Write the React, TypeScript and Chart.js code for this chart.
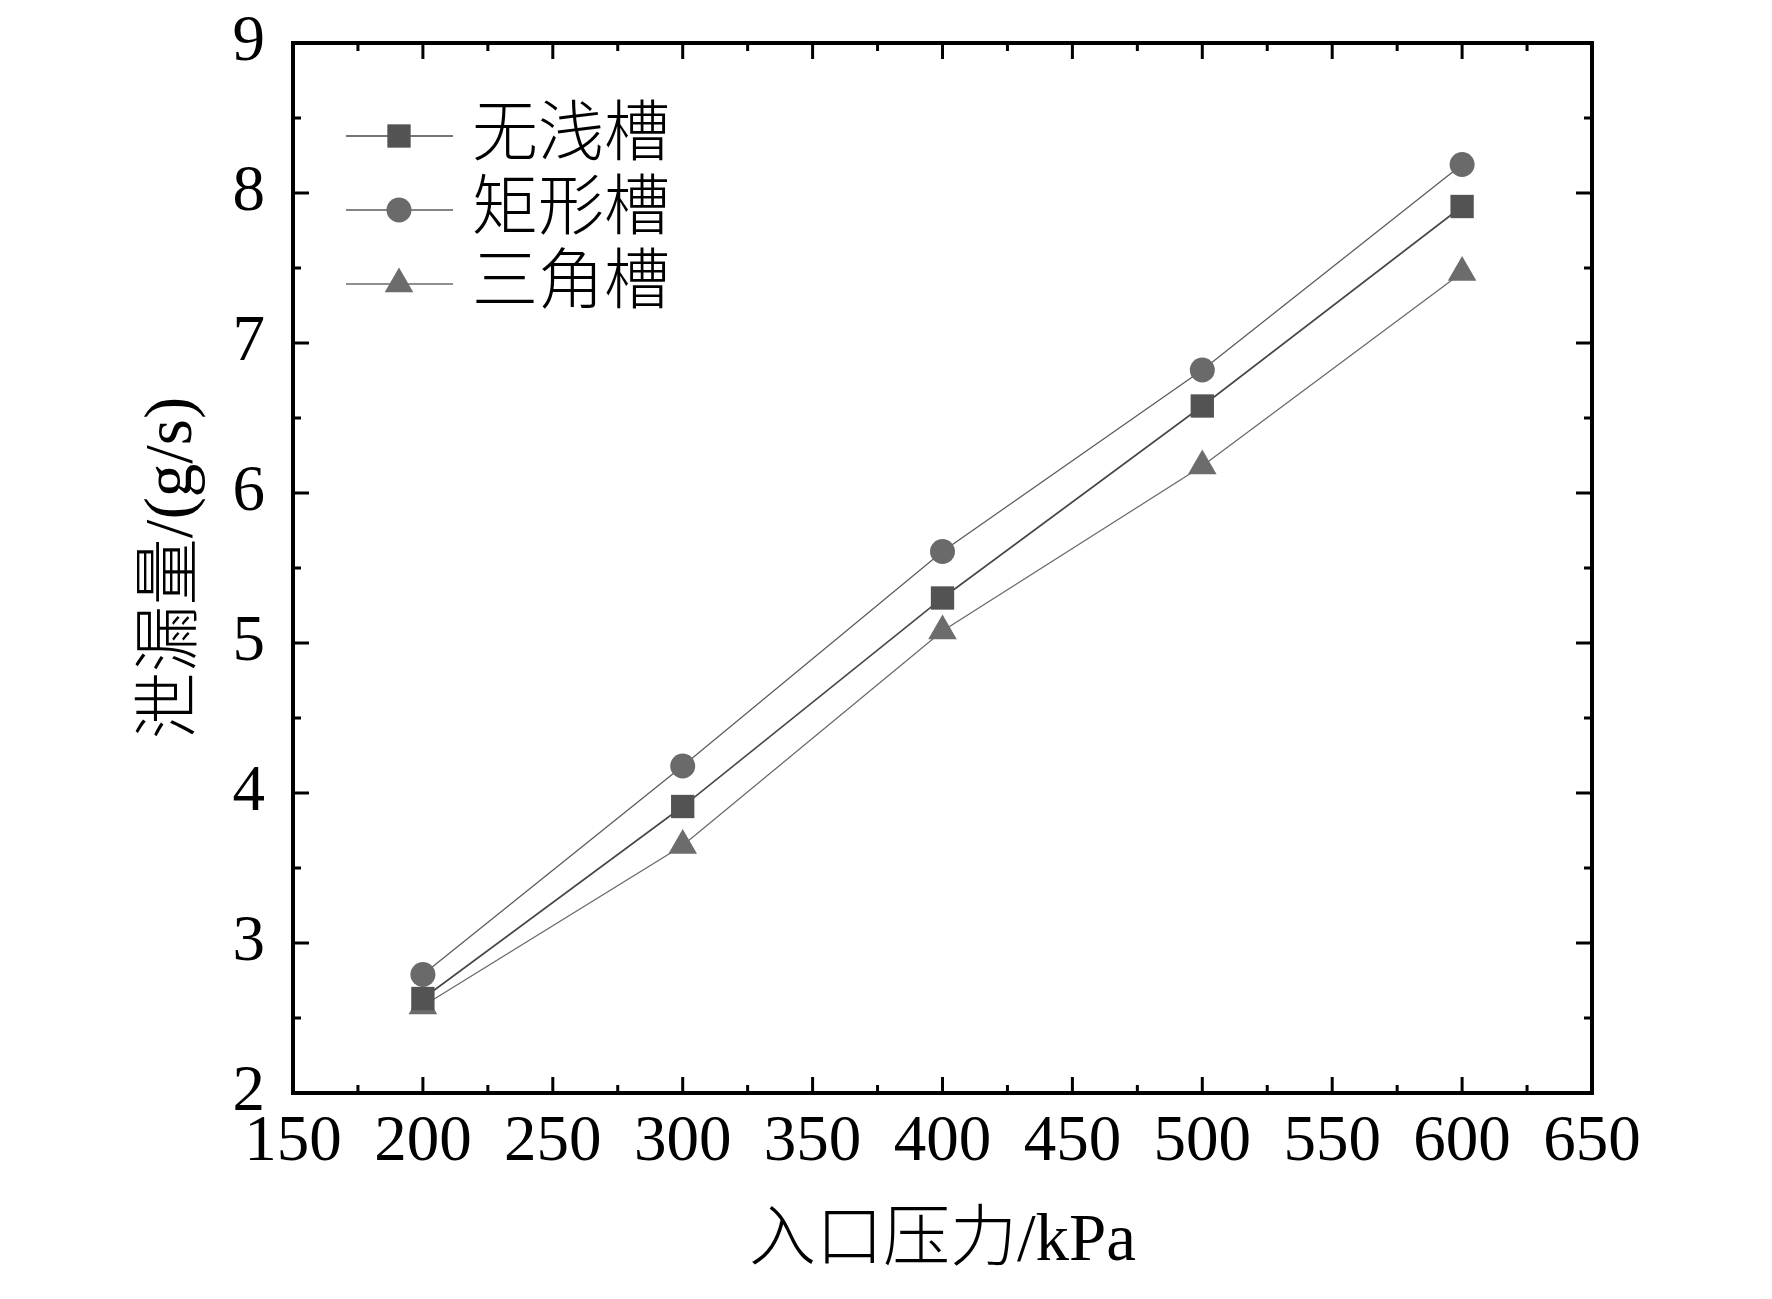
import { useEffect, useRef } from "react"
import { Chart, registerables } from "chart.js"
import { drawPoint } from "chart.js/helpers"

Chart.register(...registerables)

// inlet pressure (kPa)
const pressures = [200, 300, 400, 500, 600]
// leakage (g/s)
const noGroove = [2.63, 3.91, 5.3, 6.58, 7.91]
const rectGroove = [2.79, 4.18, 5.61, 6.82, 8.19]
const triGroove = [2.58, 3.65, 5.08, 6.18, 7.47]
const seriesNames = ["无浅槽", "矩形槽", "三角槽"]

const xTickValues = [150, 200, 250, 300, 350, 400, 450, 500, 550, 600, 650]
const yTickValues = [2, 3, 4, 5, 6, 7, 8, 9]

const serif = "'Liberation Serif', 'Noto Sans CJK SC', serif"

// box frame with inward major/minor ticks on all four sides
const framePlugin = {
  id: "frame",
  afterDraw(chart: any) {
    const { ctx, chartArea } = chart
    const { left, right, top, bottom } = chartArea
    const xs = chart.scales.x
    const ys = chart.scales.y
    const major = 16
    const minor = 8
    ctx.save()
    ctx.strokeStyle = "#000"
    ctx.lineWidth = 3
    const xv = xs.ticks.map((t: any) => t.value)
    const yv = ys.ticks.map((t: any) => t.value)
    const tickX = (px: number, len: number) => {
      ctx.beginPath()
      ctx.moveTo(px, bottom)
      ctx.lineTo(px, bottom - len)
      ctx.moveTo(px, top)
      ctx.lineTo(px, top + len)
      ctx.stroke()
    }
    const tickY = (py: number, len: number) => {
      ctx.beginPath()
      ctx.moveTo(left, py)
      ctx.lineTo(left + len, py)
      ctx.moveTo(right, py)
      ctx.lineTo(right - len, py)
      ctx.stroke()
    }
    xv.forEach((v: number, i: number) => {
      tickX(xs.getPixelForValue(v), major)
      if (i < xv.length - 1) tickX(xs.getPixelForValue((v + xv[i + 1]) / 2), minor)
    })
    yv.forEach((v: number, i: number) => {
      tickY(ys.getPixelForValue(v), major)
      if (i < yv.length - 1) tickY(ys.getPixelForValue((v + yv[i + 1]) / 2), minor)
    })
    ctx.lineWidth = 4
    ctx.strokeRect(left, top, right - left, bottom - top)
    ctx.restore()
  },
}

// legend: short line with marker, then the name
const legendPlugin = {
  id: "lineLegend",
  afterDraw(chart: any) {
    const { ctx } = chart
    const x0 = 346
    const x1 = 453
    const mx = 399
    const tx = 472
    const y0 = 136
    const step = 74
    ctx.save()
    chart.data.datasets.forEach((ds: any, i: number) => {
      const y = y0 + i * step
      ctx.strokeStyle = ds.borderColor
      ctx.lineWidth = ds.borderWidth
      ctx.beginPath()
      ctx.moveTo(x0, y)
      ctx.lineTo(x1, y)
      ctx.stroke()
      ctx.fillStyle = ds.pointBackgroundColor
      drawPoint(ctx, { pointStyle: ds.pointStyle, radius: ds.pointRadius, rotation: 0, borderWidth: 0 }, mx, y)
      ctx.fillStyle = "#000"
      ctx.font = `300 66px ${serif}`
      ctx.textAlign = "left"
      ctx.textBaseline = "middle"
      ctx.fillText(ds.label, tx, y + 2)
    })
    ctx.restore()
  },
}

export default function App() {
  const chartRef = useRef<HTMLCanvasElement>(null)
  const chartInstance = useRef<Chart | null>(null)

  useEffect(() => {
    document.body.style.margin = "0"
    if (!chartRef.current) return
    const ctx = chartRef.current.getContext("2d")
    if (!ctx) return

    if (chartInstance.current) chartInstance.current.destroy()

    const mk = (label: string, values: number[], style: string, radius: number, fill: string, line: string, lw: number) => ({
      label,
      data: pressures.map((p, i) => ({ x: p, y: values[i] })),
      pointStyle: style,
      pointRadius: radius,
      pointHoverRadius: radius,
      pointBackgroundColor: fill,
      pointBorderWidth: 0,
      borderColor: line,
      borderWidth: lw,
      showLine: true,
      tension: 0,
    })

    chartInstance.current = new Chart(ctx, {
      type: "scatter",
      data: {
        datasets: [
          mk(seriesNames[0], noGroove, "rect", 16.5, "#535353", "#474747", 1.6),
          mk(seriesNames[1], rectGroove, "circle", 12.5, "#6a6a6a", "#5c5c5c", 1.3),
          mk(seriesNames[2], triGroove, "triangle", 16.5, "#6c6c6c", "#6a6a6a", 1.3),
        ] as any,
      },
      options: {
        animation: false,
        responsive: true,
        maintainAspectRatio: false,
        layout: { padding: { top: 43, right: 180, left: 0, bottom: 0 } },
        plugins: {
          legend: { display: false },
          tooltip: { enabled: false },
        },
        scales: {
          x: {
            type: "linear",
            min: xTickValues[0],
            max: xTickValues[xTickValues.length - 1],
            afterBuildTicks: (s: any) => {
              s.ticks = xTickValues.map((v) => ({ value: v }))
            },
            afterFit: (s: any) => {
              s.height = 206
              s.paddingLeft = 0
              s.paddingRight = 0
            },
            grid: { display: false, drawTicks: false },
            border: { display: false },
            ticks: {
              padding: 11,
              color: "#000",
              font: { family: serif, size: 65 },
              maxRotation: 0,
              autoSkip: false,
            },
            title: {
              display: true,
              text: "入口压力/kPa",
              color: "#000",
              font: { family: serif, size: 67, weight: 300 as any },
              padding: { top: 0, bottom: 16 },
            },
          },
          y: {
            type: "linear",
            min: yTickValues[0],
            max: yTickValues[yTickValues.length - 1],
            afterBuildTicks: (s: any) => {
              s.ticks = yTickValues.map((v) => ({ value: v }))
            },
            afterFit: (s: any) => {
              s.width = 293
              s.paddingTop = 0
              s.paddingBottom = 0
            },
            grid: { display: false, drawTicks: false },
            border: { display: false },
            ticks: {
              padding: 28,
              color: "#000",
              font: { family: serif, size: 65 },
              autoSkip: false,
            },
            title: {
              display: true,
              text: "泄漏量/(g/s)",
              color: "#000",
              font: { family: serif, size: 67, weight: 300 as any },
              padding: { top: 133, bottom: 0 },
            },
          },
        },
      },
      plugins: [framePlugin, legendPlugin],
    })

    return () => {
      if (chartInstance.current) {
        chartInstance.current.destroy()
        chartInstance.current = null
      }
    }
  }, [])

  return (
    <div style={{ width: 1772, height: 1299, position: "relative", background: "#fff" }}>
      <canvas ref={chartRef}></canvas>
    </div>
  )
}
